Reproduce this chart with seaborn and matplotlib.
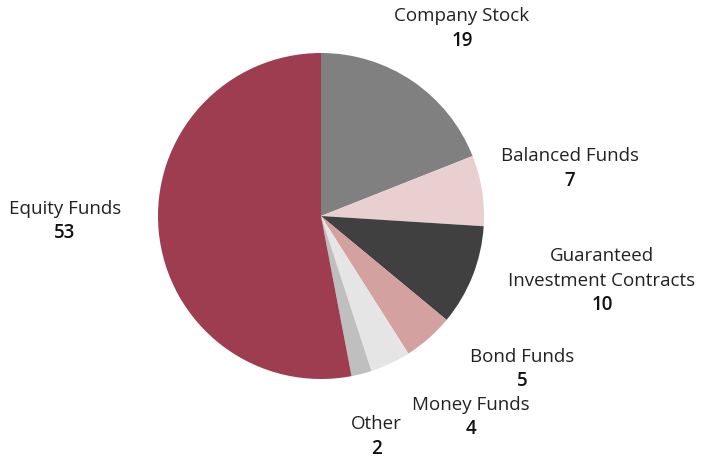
import matplotlib.pyplot as plt
import seaborn as sns

# data (clockwise from 12 o'clock)
categories = ['Company Stock', 'Balanced Funds', 'Guaranteed\nInvestment Contracts',
              'Bond Funds', 'Money Funds', 'Other', 'Equity Funds']
values = [19, 7, 10, 5, 4, 2, 53]
colors = ['#808080', '#e9cfcf', '#404040', '#d4a1a1', '#e5e5e5', '#bfbfbf', '#9e3d4f']

sns.set_theme(style='white')
plt.rcParams['font.family'] = ['Open Sans', 'DejaVu Sans']

W, H = 706, 462
fig = plt.figure(figsize=(W / 100, H / 100), dpi=100)
ax = fig.add_axes([0, 0, 1, 1])

ax.pie(values, colors=colors, startangle=90, counterclock=False,
       center=(321, H - 216), radius=163, frame=True,
       wedgeprops={'linewidth': 0})
ax.set_xlim(0, W)
ax.set_ylim(0, H)
ax.axis('off')

# label anchor (x, y of first line) in pixel space, measured from top
label_pos = [(462, 16), (570, 156), (602, 256), (522, 357), (471, 405), (376, 424), (65, 209)]
for cat, val, (x, y) in zip(categories, values, label_pos):
    lines = cat.split('\n')
    for i, line in enumerate(lines):
        ax.text(x, H - (y + 24.5 * i), line, ha='center', va='center',
                fontsize=13.5, color='#222222')
    ax.text(x, H - (y + 24.5 * len(lines)), str(val), ha='center', va='center',
            fontsize=13.5, fontweight='semibold', color='#111111')

fig.savefig('out.png', dpi=100)
